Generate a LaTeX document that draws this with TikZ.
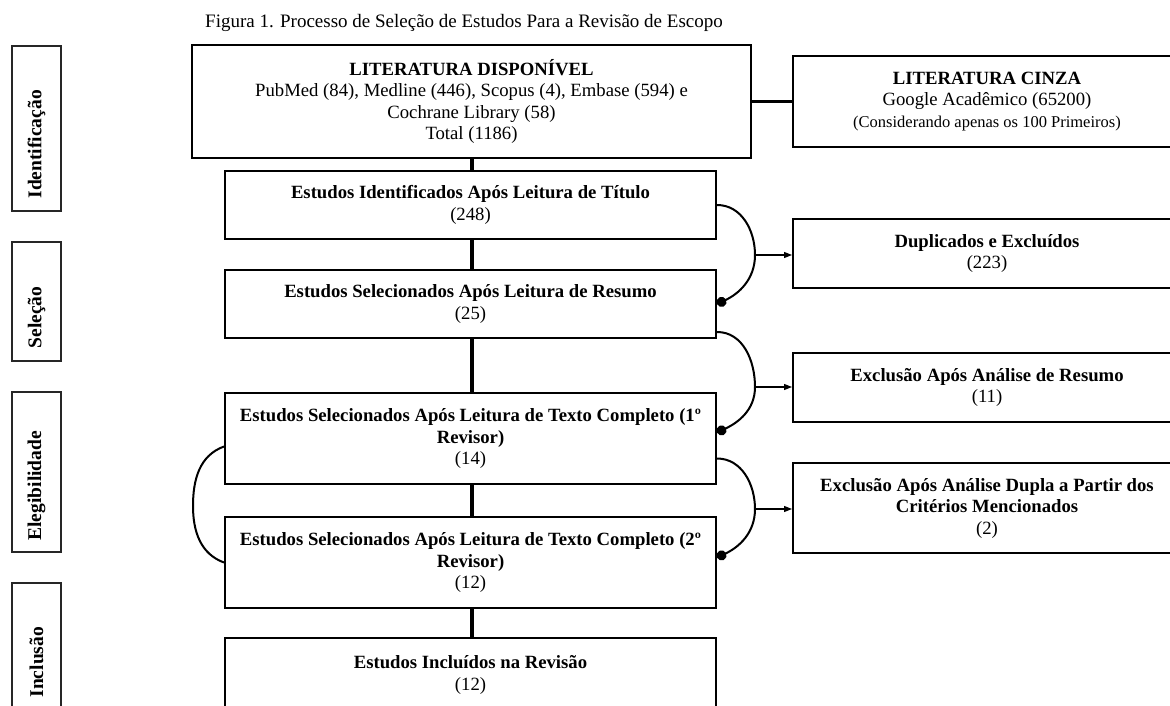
\documentclass[tikz,border=0pt]{standalone}
\usepackage{fontspec}
\setmainfont{Liberation Serif}
\usetikzlibrary{arrows.meta,calc}
\newcommand\fsbody{\fontsize{18.7}{21.5}\selectfont}
\newcommand\fssmall{\fontsize{16.5}{21}\selectfont}
\newcommand\fslab{\fontsize{19.5}{22}\selectfont}
\begin{document}
\begin{tikzpicture}[x=1pt,y=-1pt,
  box/.style={draw, line width=2pt, align=center, inner sep=0pt, font=\fsbody},
  sidebox/.style={draw, line width=1.3pt, draw=black!85, inner sep=0pt, minimum width=49pt},
  lab/.style={rotate=90, font=\bfseries\fslab, inner sep=0pt},
  vline/.style={line width=4pt},
  curve/.style={line width=2pt, -{Circle[length=10pt]}},
  curveplain/.style={line width=2pt},
  arr/.style={line width=1.2pt, -{Triangle[length=8pt,width=6pt]}}
]
\clip (0,0) rectangle (1170,706);

% title
\node[font=\fontsize{19}{22}\selectfont, inner sep=0pt] (title) at (464,23) {Figura 1. Processo de Seleção de Estudos Para a Revisão de Escopo};

% side stage labels
\node[sidebox, minimum height=165pt] (idB) at (36.5,128.5) {};
\node[sidebox, minimum height=119pt] (selB) at (36.5,301.5) {};
\node[sidebox, minimum height=160pt] (eleB) at (36.5,472) {};
\node[sidebox, minimum height=129pt] (incB) at (36.5,647.5) {};
\node[lab, anchor=west] (idT) at ([yshift=13pt]idB.south) {Identificação};
\node[lab, anchor=west] (selT) at ([yshift=13pt]selB.south) {Seleção};
\node[lab, anchor=west] (eleT) at ([yshift=12pt]eleB.south) {Elegibilidade};
\node[lab, anchor=west] (incT) at ([yshift=15pt]incB.south) {Inclusão};

% main boxes
\node[box, minimum width=559pt, minimum height=113pt] (lit) at (471.5,101.5)
  {\textbf{LITERATURA DISPONÍVEL}\\PubMed (84), Medline (446), Scopus (4), Embase (594) e\\Cochrane Library (58)\\Total (1186)};
\node[box, minimum width=388pt, minimum height=91pt] (cinza) at (987,101.5)
  {\textbf{LITERATURA CINZA}\\Google Acadêmico (65200)\\{\fssmall(Considerando apenas os 100 Primeiros)}};
\node[box, minimum width=491pt, minimum height=68pt] (b2) at (470.5,205)
  {\textbf{Estudos Identificados Após Leitura de Título}\\(248)};
\node[box, minimum width=491pt, minimum height=68pt] (b3) at (470.5,304)
  {\textbf{Estudos Selecionados Após Leitura de Resumo}\\(25)};
\node[box, minimum width=491pt, minimum height=91pt] (b4) at (470.5,438.5)
  {\textbf{Estudos Selecionados Após Leitura de Texto Completo (1º}\\\textbf{Revisor)}\\(14)};
\node[box, minimum width=491pt, minimum height=91pt] (b5) at (470.5,562.5)
  {\textbf{Estudos Selecionados Após Leitura de Texto Completo (2º}\\\textbf{Revisor)}\\(12)};
\node[box, minimum width=491pt, minimum height=74pt] (b6) at (470.5,675)
  {\textbf{Estudos Incluídos na Revisão}\\(12)};

% right boxes
\node[box, minimum width=388pt, minimum height=69pt] (dup) at (987,253.5)
  {\textbf{Duplicados e Excluídos}\\(223)};
\node[box, minimum width=388pt, minimum height=69pt] (exr) at (987,387.5)
  {\textbf{Exclusão Após Análise de Resumo}\\(11)};
\node[box, minimum width=388pt, minimum height=90pt] (exd) at (987,508)
  {\textbf{Exclusão Após Análise Dupla a Partir dos}\\\textbf{Critérios Mencionados}\\(2)};

% vertical connectors
\draw[vline] (lit.south -| 472,0) -- (b2.north -| 472,0);
\draw[vline] (b2.south -| 472,0) -- (b3.north -| 472,0);
\draw[vline] (b3.south -| 472,0) -- (b4.north -| 472,0);
\draw[vline] (b4.south -| 472,0) -- (b5.north -| 472,0);
\draw[vline] (b5.south -| 472,0) -- (b6.north -| 472,0);
\draw[line width=2.5pt] (lit.east) -- (cinza.west);

% curved exclusion connectors
\coordinate (m1) at (755,255);
\coordinate (m2) at (755,387);
\coordinate (m3) at (755,509);
\coordinate (ml) at (193,506);
\draw[curve] (b2.east) to[out=0,in=90] (m1) to[out=-90,in=25] (b3.east);
\draw[curve] ([yshift=-28pt]b3.east) to[out=0,in=90] (m2) to[out=-90,in=25] ([yshift=6pt]b4.east);
\draw[curve] ([yshift=-20pt]b4.east) to[out=0,in=90] (m3) to[out=-90,in=25] ([yshift=5pt]b5.east);
\draw[curveplain] ([yshift=-8pt]b4.west) to[out=200,in=90] (ml) to[out=-90,in=160] (b5.west);
\draw[arr] (m1) -- (m1 -| dup.west);
\draw[arr] (m2) -- (m2 -| exr.west);
\draw[arr] (m3) -- (m3 -| exd.west);
\end{tikzpicture}
\end{document}
